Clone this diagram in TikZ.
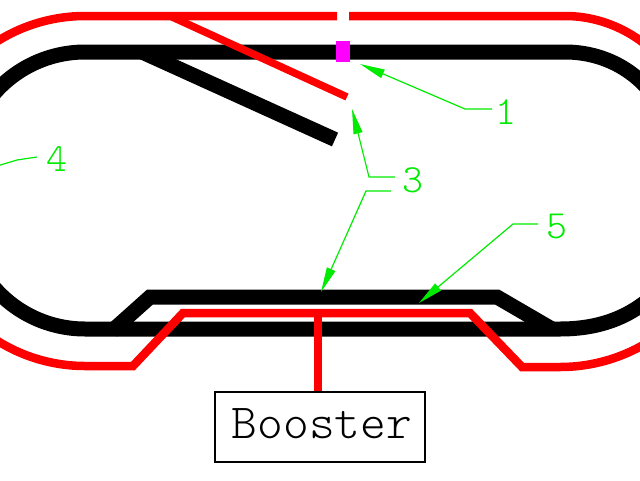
\documentclass[tikz,border=0pt]{standalone}
\usepackage{xcolor}
\usetikzlibrary{shapes.geometric, arrows.meta}
\definecolor{leadgreen}{RGB}{0,235,0}
\definecolor{gapmagenta}{RGB}{255,0,255}
\tikzstyle{track} = [line width=15pt,draw=black,line join=miter]
\tikzstyle{feed} = [line width=8.5pt,draw=red,line join=miter]
\tikzstyle{leader} = [line width=1.2pt,draw=leadgreen,-{Stealth[length=25pt,width=9pt,fill=leadgreen,inset=0pt]}]
\tikzstyle{num} = [text=leadgreen,font=\fontsize{40}{40}\selectfont\fontseries{l}\ttfamily,inner sep=1pt]
\tikzstyle{rec} = [rectangle,minimum width=210pt,minimum height=70pt,text centered,text height=30pt,text depth=8pt,draw=black,line width=1.3pt,font=\fontsize{49}{49}\selectfont\fontseries{l}\ttfamily]
\tikzstyle{gapmark} = [rectangle,minimum width=14pt,minimum height=21pt,inner sep=0pt,fill=gapmagenta]

\begin{document}
\begin{tikzpicture}[x=1pt,y=-1pt]
        \useasboundingbox (0,0) rectangle (640,480);
        \clip (0,0) rectangle (640,480);
        % black rail
        \draw [track] (-19,112) .. controls (2,75) and (42,52) .. (85,52) -- (565,52) .. controls (605,52) and (641,72) .. (661,107);
        \draw [track] (-19,269) .. controls (2,306) and (42,329) .. (85,329) -- (560,329) .. controls (610,329) and (645,310) .. (672,275);
        \draw [track] (142,52) -- (335,139.5);
        \draw [track] (112,331) -- (150,297) -- (497,297) -- (552,329);
        % red rail
        \draw [feed] (-30,63) .. controls (0,33) and (42,16) .. (85,16) -- (337,16);
        \draw [feed] (349,16) -- (565,16) .. controls (599,16) and (632,30) .. (656,54);
        \draw [feed,line width=7.5pt] (170,16) -- (347,97);
        \draw [feed] (-30,319) .. controls (0,349) and (42,366) .. (85,366) -- (133,366) -- (183,313) -- (470,313) -- (522,367) -- (560,367) .. controls (605,367) and (648,349) .. (680,317);
        \node (booster) [rec] at (320,427) {\hspace*{4pt}Booster};
        \coordinate (feedjoin) at (318,313);
        \draw [feed] (feedjoin) -- (booster.north -| feedjoin);
        \node (gap) [gapmark] at (343,51.5) {};
        % labels
        \node (one) [num] at (506,112) {1};
        \node (three) [num] at (413,180) {3};
        \node (four) [num] at (57,159) {4};
        \node (five) [num] at (557,226) {5};
        \coordinate (tipone) at (360,64);
        \coordinate (tipthreea) at (352,109);
        \coordinate (tipthreeb) at (321,292);
        \coordinate (tipfive) at (419,303);
        \coordinate (endfour) at (-3,166);
        \draw [leader] (492,109) -- (465,109) -- (tipone);
        \draw [leader] (395,177) -- (369,177) -- (tipthreea);
        \draw [leader] (391,191) -- (366,191) -- (tipthreeb);
        \draw [leader,-] (37,157) -- (17,160) -- (endfour);
        \draw [leader] (538,224) -- (513,224) -- (tipfive);
    \end{tikzpicture}
\end{document}
